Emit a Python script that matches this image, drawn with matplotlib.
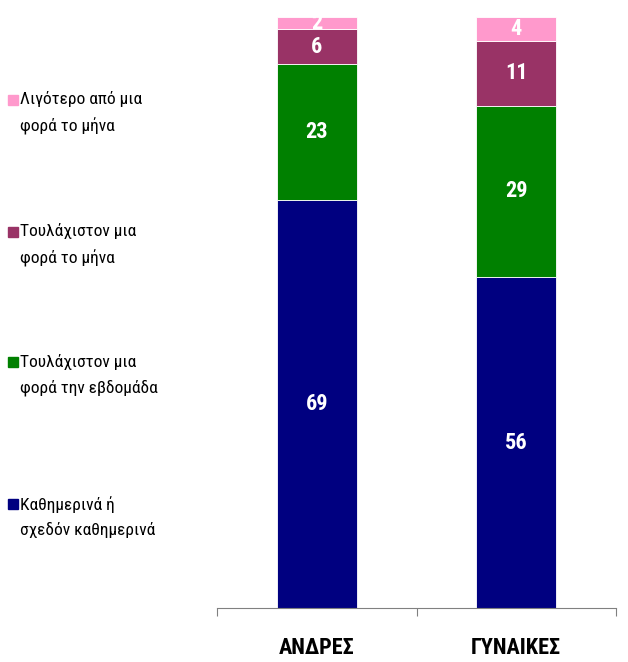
import matplotlib.pyplot as plt
from matplotlib.patches import Rectangle
from matplotlib import font_manager

categories = ['ΑΝΔΡΕΣ', 'ΓΥΝΑΙΚΕΣ']
series_names = ['Καθημερινά ή\nσχεδόν καθημερινά',
                'Τουλάχιστον μια\nφορά την εβδομάδα',
                'Τουλάχιστον μια\nφορά το μήνα',
                'Λιγότερο από μια\nφορά το μήνα']
daily = [69, 56]
weekly = [23, 29]
monthly = [6, 11]
less = [2, 4]
colors = ['#000080', '#008000', '#993366', '#FF99CC']

# pick a narrow font if one is around
names = {f.name for f in font_manager.fontManager.ttflist}
narrow = 'Liberation Sans'
for cand in ['Liberation Sans Narrow', 'Roboto Condensed', 'Open Sans Condensed']:
    if cand in names:
        narrow = cand
        break
is_narrow = narrow != 'Liberation Sans'

W, H = 628, 662
fig = plt.figure(figsize=(W / 100, H / 100), dpi=100)
ax = fig.add_axes([217 / W, 54 / H, 399 / W, 591 / H])

x = [0.5, 1.5]
bottom = [0, 0]
for vals, col in zip([daily, weekly, monthly, less], colors):
    bars = ax.bar(x, vals, width=0.4, bottom=bottom, color=col,
                  edgecolor='white', linewidth=0.6)
    for b, v, bt in zip(bars, vals, bottom):
        ax.text(b.get_x() + b.get_width() / 2, bt + v / 2, str(v),
                ha='center', va='center', color='white',
                fontsize=16 if is_narrow else 13, fontweight='bold',
                family=[narrow, 'DejaVu Sans'])
    bottom = [a + b for a, b in zip(bottom, vals)]

ax.set_xlim(0, 2)
ax.set_ylim(0, 100)
for s in ['top', 'right', 'left']:
    ax.spines[s].set_visible(False)
ax.spines['bottom'].set_color('#808080')
ax.set_yticks([])
ax.set_xticks([0, 1, 2])
ax.set_xticklabels([])
ax.tick_params(axis='x', length=6, color='#808080', direction='out')
ax.set_xticks(x, minor=True)
ax.set_xticklabels(categories, minor=True, fontsize=16 if is_narrow else 14,
                   fontweight='bold', family=[narrow, 'DejaVu Sans'])
ax.tick_params(axis='x', which='minor', length=0, pad=21)

# legend, top entry first
leg_y = [113, 245, 375, 517]
for name, col, yc in zip(series_names[::-1], colors[::-1], leg_y):
    top_line = yc - 13
    fig.patches.append(Rectangle((8 / W, 1 - (top_line + 5) / H), 10 / W, 10 / H,
                                 transform=fig.transFigure, color=col))
    fig.text(20 / W, 1 - yc / H, name, ha='left', va='center',
             fontsize=12.5 if is_narrow else 11.5,
             linespacing=1.75, family=[narrow, 'DejaVu Sans'])

fig.savefig('out.png', dpi=100)
